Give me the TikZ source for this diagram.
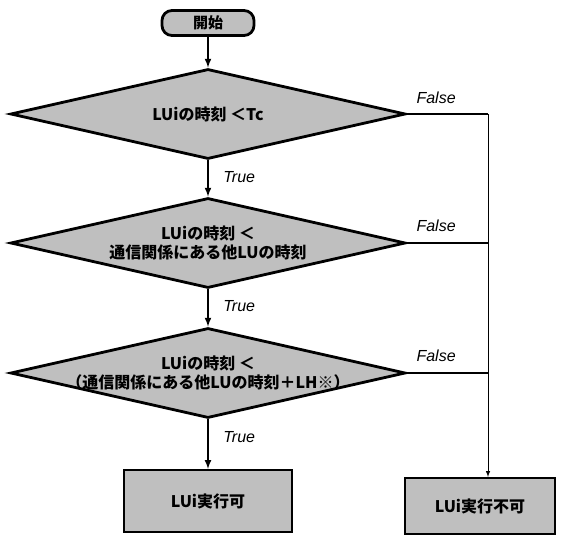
\documentclass[tikz,border=0pt]{standalone}
\usepackage{fontspec}
\usepackage{tikz}
\usetikzlibrary{shapes, arrows.meta, positioning}
\newfontfamily\jpfont{Noto Sans CJK JP}
\newfontfamily\labelfont{Liberation Sans}
\tikzstyle{startstop}=[draw,line width=2.8pt,fill=black!25,rectangle,rounded corners=10pt,minimum width=92pt,minimum height=25pt,font=\jpfont\bfseries\fontsize{15}{17}\selectfont]
\tikzstyle{decision}=[draw,line width=2.8pt,fill=black!25,diamond,minimum width=395pt,minimum height=90pt,inner sep=0pt]
\tikzstyle{block}=[draw,line width=2.2pt,fill=black!25,rectangle,font=\jpfont\bfseries\fontsize{16}{19}\selectfont]
\tikzstyle{cond}=[align=center,font=\jpfont\bfseries\fontsize{16}{19}\selectfont]
\tikzstyle{branch}=[font=\labelfont\itshape\fontsize{16}{18}\selectfont]
\begin{document}
\begin{tikzpicture}[node distance=129pt,>=latex,x=1pt,y=1pt]
    \useasboundingbox (-208,23) rectangle (359,-518);
    \node[startstop] (start) {開始};
    \node[decision, below of=start, node distance=91pt] (d1) {};
    \node[cond] (t1) at (d1) {LUiの時刻 ＜Tc};
    \node[decision, below of=d1] (d2) {};
    \node[cond] (t2) at (d2) {LUiの時刻 ＜\\通信関係にある他LUの時刻};
    \node[decision, below of=d2, node distance=130pt] (d3) {};
    \node[cond] (t3) at (d3) {LUiの時刻 ＜\\（通信関係にある他LUの時刻＋LH※）};
    \node[block, below of=d3, node distance=128pt, minimum width=168pt, minimum height=62pt] (ok) {LUi実行可};
    \node[block, right of=ok, node distance=272pt, yshift=-5pt, minimum width=150pt, minimum height=56pt] (ng) {LUi実行不可};
    \coordinate[right of=d1, node distance=280pt] (c1);
    \draw[->, line width=2pt] (start) -- (d1);
    \draw[->, line width=2pt] (d1) -- node[branch, right=11pt, pos=0.45] (y1) {True} (d2);
    \draw[->, line width=2pt] (d2) -- node[branch, right=11pt, pos=0.45] (y2) {True} (d3);
    \draw[->, line width=2pt] (d3) -- node[branch, right=11pt, pos=0.35] (y3) {True} (ok);
    \draw[line width=2pt] (d1.east) -- node[branch, above=6pt, pos=0.36] (n1) {False} (c1);
    \draw[line width=2pt] (d2.east) -- node[branch, above=7pt, pos=0.36] (n2) {False} (d2.east -| c1);
    \draw[line width=2pt] (d3.east) -- node[branch, above=7pt, pos=0.36] (n3) {False} (d3.east -| c1);
    \draw[->, line width=1pt] (c1) -- (c1 |- ng.north);
\end{tikzpicture}
\end{document}
